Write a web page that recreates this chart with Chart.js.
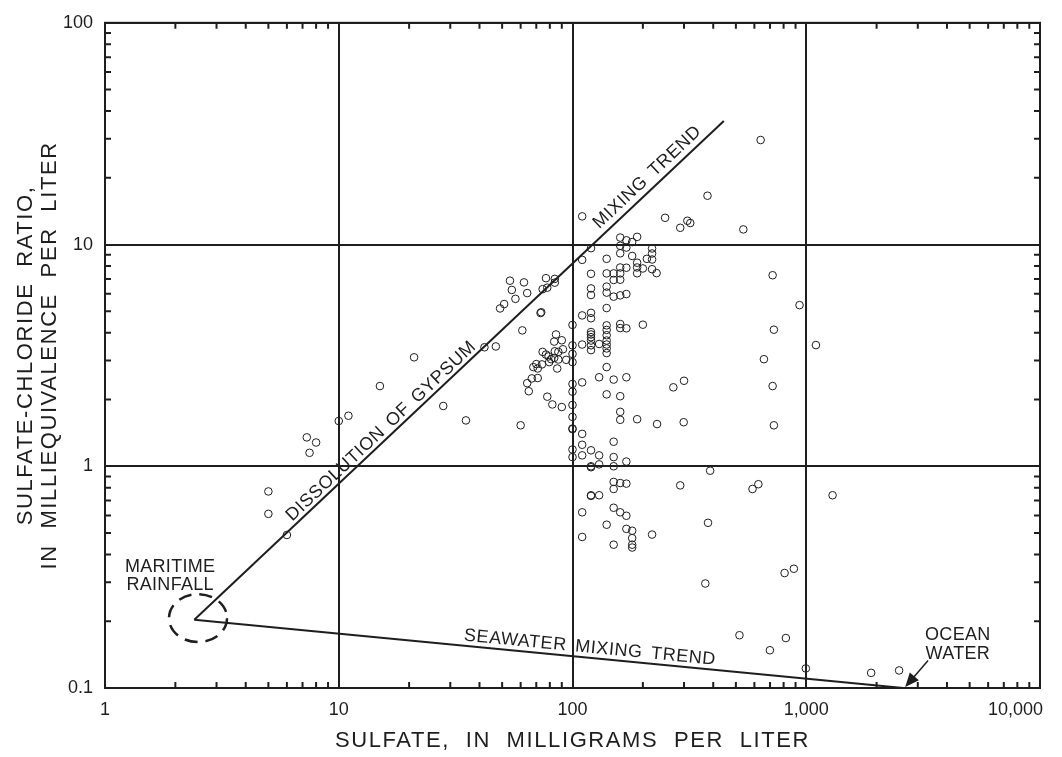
<!DOCTYPE html>
<html>
<head>
<meta charset="utf-8">
<title>Sulfate-chloride ratio</title>
<script src="https://cdn.jsdelivr.net/npm/chart.js@4.4.1/dist/chart.umd.min.js"></script>
<style>
  body { margin: 0; background: #fff; }
  canvas { display: block; }
</style>
</head>
<body>
<canvas id="chart" width="1062" height="757"></canvas>
<script>
// sample values
const sulfate = [
  5.0, 5.0, 6.0, 7.3, 8.0, 7.5, 10, 11, 15, 21, 28, 35, 42, 47, 49, 51, 54, 55, 57, 62,
  64, 77, 84, 84, 78, 74.5, 73, 73.5, 61, 60, 85, 90, 83.5, 91, 87, 84, 74.5, 77, 79, 81,
  83.5, 87, 79.5, 94, 70, 74, 68, 71, 86, 67, 71, 64, 65, 78, 82, 90,
  100, 100, 100, 100, 100, 100, 100, 100, 100, 100, 100, 100,
  110, 110, 110, 110, 110, 110, 110, 110, 110, 110,
  120, 120, 120, 120, 120, 120, 120, 120, 120, 120, 120, 120, 120, 120, 120, 120, 120,
  130, 130, 130, 130, 130,
  140, 140, 140, 140, 140, 140, 140, 140, 140, 140, 140, 140, 140, 140, 140,
  150, 150, 150, 150, 150, 150, 150, 150, 150, 150, 150,
  160, 160, 160, 160, 160, 160, 160, 160, 160, 160, 160, 160, 160, 160,
  170, 170, 170, 170, 170, 170, 170, 170, 170, 170,
  180, 180, 180, 180, 180, 180,
  189, 189, 189, 189, 189, 200, 200, 208, 219, 219, 219, 219, 219, 229, 230,
  249, 289, 310, 319, 378, 538, 638, 270, 300, 299, 388, 289, 589, 624, 380, 370, 518,
  718, 936, 727, 1100, 659, 718, 727, 1296, 808, 885, 818, 699, 996, 1895, 2496
];
const ratio = [
  0.77, 0.61, 0.49, 1.35, 1.28, 1.15, 1.6, 1.69, 2.3, 3.1, 1.87, 1.61, 3.44, 3.47, 5.15, 5.39, 6.87, 6.24, 5.69, 6.75,
  6.04, 7.05, 7.0, 6.73, 6.39, 6.29, 4.91, 4.95, 4.1, 1.53, 3.93, 3.7, 3.65, 3.37, 3.28, 3.3, 3.28, 3.19, 3.13, 3.04,
  3.08, 3.03, 2.95, 3.02, 2.89, 2.88, 2.8, 2.76, 2.76, 2.49, 2.5, 2.37, 2.18, 2.06, 1.9, 1.85,
  4.34, 3.51, 3.21, 2.95, 2.35, 2.17, 1.89, 1.67, 1.48, 1.47, 1.19, 1.10,
  13.4, 8.53, 4.79, 3.54, 2.39, 1.4, 1.25, 1.12, 0.62, 0.48,
  9.63, 7.38, 6.34, 5.92, 4.92, 4.65, 4.03, 3.93, 3.82, 3.69, 3.51, 3.34, 1.0, 0.99, 1.18, 0.74, 0.735,
  3.56, 2.52, 1.12, 1.02, 0.74,
  8.62, 7.41, 6.46, 6.07, 5.17, 4.32, 4.12, 3.90, 3.69, 3.54, 3.40, 3.24, 2.80, 2.11, 0.545,
  7.41, 6.92, 5.82, 2.46, 1.29, 1.10, 1.0, 0.85, 0.79, 0.65, 0.443,
  10.75, 9.87, 9.13, 7.88, 7.41, 6.94, 5.90, 4.38, 4.20, 2.07, 1.76, 1.62, 0.84, 0.62,
  10.45, 9.69, 7.86, 5.98, 4.19, 2.52, 1.05, 0.835, 0.598, 0.522,
  10.26, 8.88, 0.512, 0.474, 0.443, 0.43,
  10.83, 8.28, 7.88, 7.42, 1.63, 7.80, 4.35, 8.62, 9.60, 9.11, 8.56, 7.74, 0.492, 7.43, 1.55,
  13.2, 11.9, 12.8, 12.5, 16.6, 11.7, 29.6, 2.27, 2.43, 1.58, 0.955, 0.82, 0.79, 0.83, 0.556, 0.296, 0.173,
  7.27, 5.33, 4.13, 3.52, 3.04, 2.30, 1.53, 0.74, 0.33, 0.345, 0.168, 0.148, 0.1225, 0.117, 0.12
];

// trend lines, from maritime rainfall
const gypsumX = [2.41, 444];
const gypsumY = [0.203, 36.1];
const seawaterX = [2.41, 2600];
const seawaterY = [0.203, 0.1];

const xTicks = [1, 10, 100, 1000, 10000];
const xTickLabels = ['1', '10', '100', '1,000', '10,000'];
const yTicks = [0.1, 1, 10, 100];
const yTickLabels = ['0.1', '1', '10', '100'];

const INK = '#1e1e1e';
const FONT = '"Liberation Sans", Arial, Helvetica, sans-serif';

function toPoints(xs, ys) {
  var pts = [];
  for (var i = 0; i < xs.length; i++) {
    pts.push({ x: xs[i], y: ys[i] });
  }
  return pts;
}

function pick(list, labels, v) {
  for (var i = 0; i < list.length; i++) {
    if (Math.abs(list[i] - v) / list[i] < 1e-6) return labels[i];
  }
  return '';
}

function spacedText(ctx, text, x, y, letter, word) {
  ctx.letterSpacing = letter;
  ctx.wordSpacing = word;
  ctx.fillText(text, x, y);
  ctx.letterSpacing = '0px';
  ctx.wordSpacing = '0px';
}

const decor = {
  id: 'decor',
  afterDraw(chart) {
    const ctx = chart.ctx, a = chart.chartArea;
    const xs = chart.scales.x, ys = chart.scales.y;
    const px = v => xs.getPixelForValue(v);
    const py = v => ys.getPixelForValue(v);

    ctx.save();
    ctx.strokeStyle = INK;
    ctx.fillStyle = INK;
    ctx.lineWidth = 2;

    // frame
    ctx.strokeRect(a.left, a.top, a.right - a.left, a.bottom - a.top);

    // inward minor ticks on all four sides
    ctx.beginPath();
    for (var k = 0; k < 4; k++) {
      for (var d = 2; d < 10; d++) {
        var x = px(d * Math.pow(10, k));
        ctx.moveTo(x, a.bottom); ctx.lineTo(x, a.bottom - 6);
        ctx.moveTo(x, a.top); ctx.lineTo(x, a.top + 6);
      }
    }
    for (var k = -1; k < 2; k++) {
      for (var d = 2; d < 10; d++) {
        var y = py(d * Math.pow(10, k));
        ctx.moveTo(a.left, y); ctx.lineTo(a.left + 6, y);
        ctx.moveTo(a.right, y); ctx.lineTo(a.right - 6, y);
      }
    }
    ctx.stroke();

    // x tick labels, the last one kept inside the canvas
    ctx.font = '18px ' + FONT;
    ctx.textAlign = 'center';
    ctx.textBaseline = 'alphabetic';
    for (var i = 0; i < xTicks.length; i++) {
      var tx = px(xTicks[i]);
      var w = ctx.measureText(xTickLabels[i]).width;
      if (tx + w / 2 > a.right + 3) tx = a.right + 3 - w / 2;
      ctx.fillText(xTickLabels[i], tx, a.bottom + 27);
    }

    // axis titles
    ctx.font = '22px ' + FONT;
    spacedText(ctx, 'SULFATE, IN MILLIGRAMS PER LITER', (a.left + a.right) / 2, 747, '1.6px', '8px');
    var midY = (a.top + a.bottom) / 2;
    ctx.save();
    ctx.translate(32, midY);
    ctx.rotate(-Math.PI / 2);
    spacedText(ctx, 'SULFATE-CHLORIDE RATIO,', 0, 0, '1.6px', '8px');
    ctx.restore();
    ctx.save();
    ctx.translate(56, midY);
    ctx.rotate(-Math.PI / 2);
    spacedText(ctx, 'IN MILLIEQUIVALENCE PER LITER', 0, 0, '1.6px', '8px');
    ctx.restore();

    // text along the trend lines
    ctx.font = '18px ' + FONT;
    ctx.textBaseline = 'middle';
    function along(text, cx, cy, lx, ly) {
      var ang = Math.atan2(py(ly[1]) - py(ly[0]), px(lx[1]) - px(lx[0]));
      ctx.save();
      ctx.translate(px(cx), py(cy));
      ctx.rotate(ang);
      spacedText(ctx, text, 0, 0, '0.6px', '3px');
      ctx.restore();
    }
    along('DISSOLUTION OF GYPSUM', 15.2, 1.44, gypsumX, gypsumY);
    along('MIXING TREND', 209, 20.1, gypsumX, gypsumY);
    along('SEAWATER MIXING TREND', 118.7, 0.152, seawaterX, seawaterY);

    // maritime rainfall
    ctx.textBaseline = 'alphabetic';
    var mx = px(1.9), my = py(0.332);
    spacedText(ctx, 'MARITIME', mx, my, '0.3px', '0px');
    spacedText(ctx, 'RAINFALL', mx, my + 17.5, '0.3px', '0px');
    ctx.save();
    ctx.lineWidth = 2.5;
    ctx.setLineDash([13, 8]);
    ctx.beginPath();
    ctx.ellipse(px(2.5), py(0.2066), 29, 24, 0, 0, Math.PI * 2);
    ctx.stroke();
    ctx.restore();

    // ocean water
    var ox = px(4450), oy = py(0.165);
    spacedText(ctx, 'OCEAN', ox, oy, '0.3px', '0px');
    spacedText(ctx, 'WATER', ox, oy + 19, '0.3px', '0px');
    var sx = px(3320), sy = py(0.133);
    var ex = px(2650), ey = py(0.1) - 1;
    var len = Math.hypot(ex - sx, ey - sy);
    var ux = (ex - sx) / len, uy = (ey - sy) / len;
    ctx.lineWidth = 1.5;
    ctx.beginPath();
    ctx.moveTo(sx, sy);
    ctx.lineTo(ex - ux * 10, ey - uy * 10);
    ctx.stroke();
    ctx.beginPath();
    ctx.moveTo(ex, ey);
    ctx.lineTo(ex - ux * 14 - uy * 6, ey - uy * 14 + ux * 6);
    ctx.lineTo(ex - ux * 14 + uy * 6, ey - uy * 14 - ux * 6);
    ctx.closePath();
    ctx.fill();

    ctx.restore();
  }
};

const logAxis = function (min, max, ticks) {
  return {
    type: 'logarithmic',
    min: min,
    max: max,
    afterBuildTicks: s => { s.ticks = ticks.map(v => ({ value: v })); },
    grid: { color: INK, lineWidth: 2, drawTicks: false },
    border: { color: INK, width: 2 }
  };
};

window.onload = function () {
  const xAxis = logAxis(1, 10000, xTicks);
  xAxis.ticks = { display: false };
  xAxis.afterFit = s => { s.height = 69; };

  const yAxis = logAxis(0.1, 100, yTicks);
  yAxis.ticks = {
    padding: 12,
    color: INK,
    font: { family: FONT, size: 18 },
    callback: v => pick(yTicks, yTickLabels, v)
  };
  yAxis.afterFit = s => { s.width = 105; };

  new Chart(document.getElementById('chart'), {
    type: 'scatter',
    data: {
      datasets: [{
        label: 'Samples',
        data: toPoints(sulfate, ratio),
        pointRadius: 3.8,
        pointBorderWidth: 1,
        pointBorderColor: INK,
        pointBackgroundColor: 'rgba(0,0,0,0)'
      }, {
        type: 'line',
        label: 'Dissolution of gypsum',
        data: toPoints(gypsumX, gypsumY),
        showLine: true,
        borderColor: INK,
        borderWidth: 2,
        pointRadius: 0,
        fill: false
      }, {
        type: 'line',
        label: 'Seawater mixing trend',
        data: toPoints(seawaterX, seawaterY),
        showLine: true,
        borderColor: INK,
        borderWidth: 2,
        pointRadius: 0,
        fill: false
      }]
    },
    options: {
      responsive: false,
      animation: false,
      layout: { padding: { top: 21, right: 22, left: 0, bottom: 0 } },
      plugins: { legend: { display: false }, tooltip: { enabled: false } },
      scales: { x: xAxis, y: yAxis }
    },
    plugins: [decor]
  });
};
</script>
</body>
</html>
